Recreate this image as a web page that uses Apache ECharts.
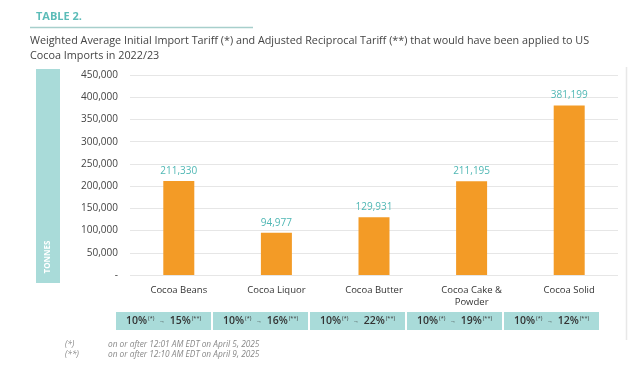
<!DOCTYPE html>
<html>
<head>
<meta charset="utf-8">
<script src="https://cdn.jsdelivr.net/npm/echarts@6/dist/echarts.min.js"></script>
<style>html,body{margin:0;padding:0;background:#fff}#c{width:640px;height:385px}</style>
</head>
<body>
<div id="c"></div>
<script>
var categories = ['Cocoa Beans', 'Cocoa Liquor', 'Cocoa Butter', 'Cocoa Cake &\nPowder', 'Cocoa Solid'];
var tonnes = [211330, 94977, 129931, 211195, 381199];
var initialTariff = ['10%', '10%', '10%', '10%', '10%'];
var adjustedTariff = ['15%', '16%', '22%', '19%', '12%'];
var yTicks = [0, 50000, 100000, 150000, 200000, 250000, 300000, 350000, 400000, 450000];

var FONT = '"Open Sans", sans-serif';
var TEAL = '#a9dbd9';
var chart = echarts.init(document.getElementById('c'), null, {renderer: 'canvas'});

function fmt(v) { return v === 0 ? '-' : v.toLocaleString('en-US'); }

chart.setOption({
  animation: false,
  textStyle: {fontFamily: FONT},
  grid: [
    {left: 130, right: 22, top: 75, height: 200},
    {left: 115, right: 40, top: 300, height: 10}
  ],
  xAxis: [
    {
      type: 'category', gridIndex: 0, data: categories,
      axisLine: {show: false}, axisTick: {show: false},
      axisLabel: {color: '#333', fontSize: 9.5, margin: 9, lineHeight: 12, interval: 0, fontFamily: FONT}
    },
    {
      type: 'category', gridIndex: 1, data: categories.map(function (c, i) { return i; }),
      axisLine: {show: false}, axisTick: {show: false},
      axisLabel: {
        interval: 0, margin: 2,
        formatter: function (v, i) {
          return '{m|' + initialTariff[i] + '}{s|(*)}{a|   →   }{m|' + adjustedTariff[i] + '}{s|(**)}';
        },
        backgroundColor: TEAL, width: 95, padding: [3, 0, 2, 0], align: 'center',
        rich: {
          m: {fontSize: 10.5, color: '#333', fontFamily: FONT, fontWeight: 600, lineHeight: 13},
          s: {fontSize: 5.5, color: '#333', fontFamily: FONT, verticalAlign: 'top', lineHeight: 13, padding: [0, 0, 5, 1]},
          a: {fontSize: 6, color: '#333', fontFamily: FONT, lineHeight: 13}
        }
      }
    }
  ],
  yAxis: [
    {
      type: 'value', gridIndex: 0, min: yTicks[0], max: yTicks[yTicks.length - 1], interval: yTicks[1] - yTicks[0],
      axisLine: {show: false}, axisTick: {show: false},
      splitLine: {lineStyle: {color: '#e6e6e6', width: 1}},
      axisLabel: {color: '#444', fontSize: 10, margin: 12, formatter: fmt, fontFamily: FONT}
    },
    {type: 'value', gridIndex: 1, show: false}
  ],
  series: [
    {
      type: 'bar', xAxisIndex: 0, yAxisIndex: 0, data: tonnes, barWidth: 31,
      itemStyle: {color: '#f39b26'},
      label: {show: true, position: 'top', distance: 5, color: '#4fb7b4', fontSize: 10, fontFamily: FONT,
        formatter: function (p) { return p.value.toLocaleString('en-US'); }}
    }
  ],
  graphic: [
    {type: 'text', left: 36, top: 11, style: {text: 'TABLE 2.', fill: '#5bbcb8', font: 'bold 11px ' + FONT}},
    {type: 'line', shape: {x1: 30, y1: 27.5, x2: 253, y2: 27.5}, style: {stroke: '#a7cfcc', lineWidth: 1.5}},
    {type: 'text', left: 30, top: 33, style: {
      text: 'Weighted Average Initial Import Tariff (*) and Adjusted Reciprocal Tariff (**) that would have been applied to US\nCocoa Imports in 2022/23',
      fill: '#444', font: '10.8px ' + FONT, lineHeight: 15.5}},
    {type: 'rect', shape: {x: 36, y: 69, width: 24, height: 214}, style: {fill: TEAL}},
    {type: 'text', x: 48, y: 257, rotation: Math.PI / 2, style: {
      text: 'TONNES', fill: '#fff', font: 'bold 8px ' + FONT, align: 'center', verticalAlign: 'middle'}},
    {type: 'line', shape: {x1: 626.5, y1: 67, x2: 626.5, y2: 340}, style: {stroke: '#e8e8e8', lineWidth: 1.5}},
    {type: 'text', left: 65, top: 340, style: {text: '(*)\n(**)', fill: '#888', font: 'italic 8.3px ' + FONT, lineHeight: 10}},
    {type: 'text', left: 108, top: 340, style: {
      text: 'on or after 12:01 AM EDT on April 5, 2025\non or after 12:10 AM EDT on April 9, 2025',
      fill: '#888', font: 'italic 8.3px ' + FONT, lineHeight: 10}}
  ]
});
</script>
</body>
</html>
